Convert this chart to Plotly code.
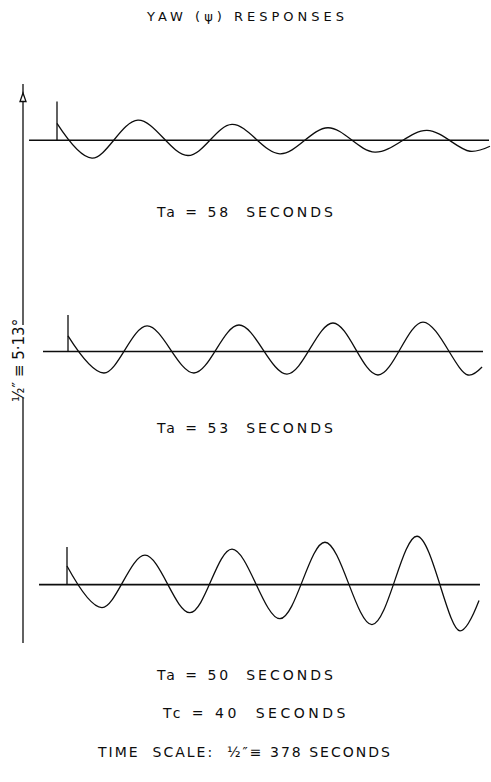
import plotly.graph_objects as go

W, H = 491, 782

# Drawing scales: half an inch on the sheet is about 45 px
HALF_INCH_PX = 45
SEC_PER_PX = 378 / HALF_INCH_PX      # time scale  1/2" = 378 s
DEG_PER_PX = 5.13 / HALF_INCH_PX     # yaw scale   1/2" = 5.13 deg

# ---- yaw responses: start point, successive peaks / troughs, last point ----
# Ta = 58 s
t_58 = [0, 294, 680, 1100, 1470, 1873, 2276, 2671, 3108, 3469, 3637]
psi_58 = [1.93, -2.03, 2.30, -1.73, 1.81, -1.54, 1.43, -1.35, 1.13, -1.25, -0.68]
# Ta = 53 s
t_53 = [0, 302, 664, 1058, 1436, 1840, 2226, 2604, 2982, 3360, 3478]
psi_53 = [1.77, -2.45, 2.91, -2.45, 3.02, -2.57, 3.25, -2.68, 3.36, -2.68, -1.77]
# Ta = 50 s
t_50 = [0, 294, 655, 1033, 1386, 1789, 2167, 2562, 2940, 3301, 3461]
psi_50 = [2.12, -2.62, 3.35, -3.20, 4.04, -3.89, 4.83, -4.57, 5.51, -5.27, -1.82]

ta_values = [58, 53, 50]
responses_t = [t_58, t_53, t_50]
responses_psi = [psi_58, psi_53, psi_50]
disturbance_psi = [4.43, 4.16, 4.29]          # height of the initial kick marker
baseline_t = [[-235, 3629], [-210, 3486], [-235, 3469]]

# ---- placement of the three panels on the sheet (pixels) ----
spike_px = [57, 68, 67]                 # x of t = 0
base_px = [140.3, 351.5, 584.6]         # y of psi = 0
band_px = [(60, 200), (290, 410), (500, 660)]
label_px = [212, 428, 675]

FONT = "DejaVu Sans"
INK = "#0d0d0d"


def ls(text, spacing):
    return f'<span style="letter-spacing:{spacing}px">{text}</span>'


fig = go.Figure()
layout = dict(
    width=W, height=H, margin=dict(l=0, r=0, t=0, b=0),
    paper_bgcolor="white", plot_bgcolor="white", showlegend=False,
)

for i in range(3):
    n = "" if i == 0 else str(i + 1)
    xa, ya = "x" + n, "y" + n
    top, bot = band_px[i]
    layout["xaxis" + n] = dict(
        domain=[0, 1], anchor=ya, visible=False,
        range=[-spike_px[i] * SEC_PER_PX, (W - spike_px[i]) * SEC_PER_PX],
    )
    layout["yaxis" + n] = dict(
        domain=[1 - bot / H, 1 - top / H], anchor=xa, visible=False,
        range=[-(bot - base_px[i]) * DEG_PER_PX, (base_px[i] - top) * DEG_PER_PX],
    )
    # zero line
    fig.add_trace(go.Scatter(
        x=baseline_t[i], y=[0, 0], mode="lines", xaxis=xa, yaxis=ya,
        line=dict(color=INK, width=1.6), hoverinfo="skip"))
    # disturbance marker at t = 0
    fig.add_trace(go.Scatter(
        x=[0, 0], y=[0, disturbance_psi[i]], mode="lines", xaxis=xa, yaxis=ya,
        line=dict(color=INK, width=1.3), hoverinfo="skip"))
    # yaw response, smoothed through its turning points
    fig.add_trace(go.Scatter(
        x=responses_t[i], y=responses_psi[i], mode="lines", xaxis=xa, yaxis=ya,
        line=dict(color=INK, width=1.3, shape="spline", smoothing=1.0),
        name=f"Ta = {ta_values[i]} s"))

fig.update_layout(**layout)


def px(x, y):
    return x / W, 1 - y / H


# yaw axis with open arrowhead, broken around its scale note
shapes = []
for y0, y1 in [(84, 325), (398, 643)]:
    (xa0, ya0), (xa1, ya1) = px(23, y0), px(23, y1)
    shapes.append(dict(type="line", xref="paper", yref="paper",
                       x0=xa0, y0=ya0, x1=xa1, y1=ya1,
                       line=dict(color=INK, width=1.3)))
(ax, ay), (bx, by), (cx, cy) = px(23, 93), px(20, 101.5), px(26, 101.5)
shapes.append(dict(type="path", xref="paper", yref="paper",
                   path=f"M {ax} {ay} L {bx} {by} L {cx} {cy} Z",
                   line=dict(color=INK, width=1.3), fillcolor="white"))

annotations = []


def note(text, x, y, size, angle=0):
    xp, yp = px(x, y)
    annotations.append(dict(
        text=text, x=xp, y=yp, xref="paper", yref="paper",
        xanchor="center", yanchor="middle", showarrow=False, textangle=angle,
        font=dict(family=FONT, size=size, color=INK)))


note(ls("YAW (ψ) RESPONSES", 4), 247, 17, 13)
for i in range(3):
    note(ls(f"Ta = {ta_values[i]}  SECONDS", 3), 246, label_px[i], 14)
note(ls("Tc = 40  SECONDS", 3.5), 255, 713, 14)
note(ls("TIME  SCALE:  ½″≡ 378 SECONDS", 2), 244, 752, 14)
note("½″ ≡ 5·13°", 19, 361, 15, angle=-90)

fig.update_layout(shapes=shapes, annotations=annotations)
fig.write_html("out.html")
